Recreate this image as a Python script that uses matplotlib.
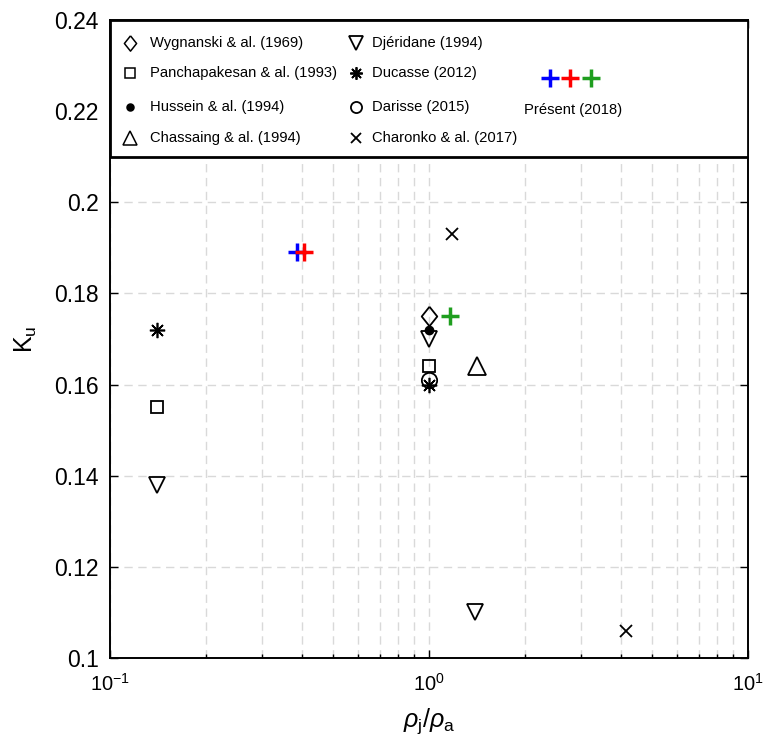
import numpy as np
import matplotlib.pyplot as plt
from matplotlib.patches import Rectangle

plt.rcParams['font.family'] = ['Liberation Sans', 'DejaVu Sans']
plt.rcParams['mathtext.fontset'] = 'custom'
plt.rcParams['mathtext.rm'] = 'Liberation Sans'
plt.rcParams['mathtext.it'] = 'Liberation Sans:italic'
plt.rcParams['mathtext.default'] = 'regular'

# data: density ratio rho_j/rho_a and K_u for each reference
wyg_x, wyg_y = [1.0], [0.175]
pan_x, pan_y = [0.14, 1.0], [0.155, 0.164]
hus_x, hus_y = [1.0], [0.172]
cha_x, cha_y = [1.41], [0.164]
dje_x, dje_y = [0.14, 1.0, 1.39], [0.138, 0.170, 0.110]
duc_x, duc_y = [0.14, 1.0], [0.172, 0.160]
dar_x, dar_y = [1.0], [0.161]
chr_x, chr_y = [1.18, 4.15], [0.193, 0.106]
pres_x = [0.385, 0.405, 1.16]
pres_y = [0.189, 0.189, 0.175]
pres_colors = ['#0000ff', '#ff0000', '#1f9e1f']

legend_left = ['Wygnanski & al. (1969)', 'Panchapakesan & al. (1993)',
               'Hussein & al. (1994)', 'Chassaing & al. (1994)']
legend_right = ['Djéridane (1994)', 'Ducasse (2012)',
                'Darisse (2015)', 'Charonko & al. (2017)']

diamond = [(0, 1), (0.8, 0), (0, -1), (-0.8, 0), (0, 1)]
aster = (8, 2, 0)

fig = plt.figure(figsize=(7.63, 7.47), dpi=100)
ax = fig.add_axes([0.1442, 0.1191, 0.8361, 0.8541])

kw = dict(ls='none', mfc='none', mec='k', color='k', zorder=5)
ax.plot(wyg_x, wyg_y, marker=diamond, ms=14, mew=1.3, **kw)
ax.plot(pan_x, pan_y, marker='s', ms=8.6, mew=1.3, **kw)
ax.plot(hus_x, hus_y, ls='none', marker='o', ms=6, mfc='k', mec='k', zorder=6)
ax.plot(cha_x, cha_y, marker='^', ms=13, mew=1.3, **kw)
ax.plot(dje_x, dje_y, marker='v', ms=12, mew=1.3, **kw)
ax.plot(duc_x, duc_y, marker=aster, ms=11, mew=1.2, **kw)
ax.plot(dar_x, dar_y, marker='o', ms=11, mew=1.3, **kw)
ax.plot(chr_x, chr_y, marker='x', ms=9, mew=1.3, **kw)
for x, y, c in zip(pres_x, pres_y, pres_colors):
    ax.plot([x], [y], ls='none', marker='+', ms=13, mew=2.5, color=c, zorder=7)

ax.set_xscale('log')
ax.set_xlim(0.1, 10)
ax.set_ylim(0.1, 0.24)
ax.set_yticks(np.arange(0.1, 0.2401, 0.02))
ax.set_yticklabels(['0.1', '0.12', '0.14', '0.16', '0.18', '0.2', '0.22', '0.24'])
ax.tick_params(which='both', direction='in', top=True, right=True, width=1)
ax.tick_params(axis='y', pad=8, labelsize=16.5)
ax.tick_params(axis='x', pad=11, labelsize=14.5)
ax.tick_params(which='major', length=6)
ax.tick_params(which='minor', length=3)
ax.grid(True, which='both', ls=(0, (6, 4)), color='#d9d9d9', lw=1)
ax.set_axisbelow(True)
for s in ax.spines.values():
    s.set_linewidth(1.4)

ax.set_xlabel(r'$\mathit{\rho}_{j}/\mathit{\rho}_{a}$', fontsize=18, labelpad=8)
ax.set_ylabel(r'K$_{u}$', fontsize=18, labelpad=11)

# custom legend box on top of the axes
def px(x, y):
    return ((x - 110) / 638, (658 - y) / 638)

x0, y0 = px(110, 157)
ax.add_patch(Rectangle((x0, y0), 1 - x0, 1 - y0, transform=ax.transAxes,
                       facecolor='white', edgecolor='k', lw=2, zorder=10))
rows = [43, 73, 107, 138]
mk_left = [dict(marker=diamond, ms=11, mfc='none'), dict(marker='s', ms=7, mfc='none'),
           dict(marker='o', ms=5, mfc='k'), dict(marker='^', ms=10, mfc='none')]
mk_right = [dict(marker='v', ms=10, mfc='none'), dict(marker=aster, ms=9, mfc='none'),
            dict(marker='o', ms=8, mfc='none'), dict(marker='x', ms=7, mfc='none')]
for r, lab, mk in zip(rows, legend_left, mk_left):
    mx, my = px(130, r)
    ax.plot([mx], [my], transform=ax.transAxes, mec='k', mew=1.1, zorder=11,
            clip_on=False, **mk)
    tx, ty = px(150, r)
    ax.text(tx, ty, lab, transform=ax.transAxes, fontsize=10.6, va='center',
            ha='left', zorder=11)
for r, lab, mk in zip(rows, legend_right, mk_right):
    mx, my = px(356, r)
    ax.plot([mx], [my], transform=ax.transAxes, mec='k', mew=1.3, zorder=11,
            clip_on=False, **mk)
    tx, ty = px(372, r)
    ax.text(tx, ty, lab, transform=ax.transAxes, fontsize=10.6, va='center',
            ha='left', zorder=11)
for cx, c in zip([550, 570, 591], pres_colors):
    mx, my = px(cx, 78)
    ax.plot([mx], [my], transform=ax.transAxes, marker='+', ms=13, mew=2.5,
            color=c, zorder=11, clip_on=False)
tx, ty = px(573, 110)
ax.text(tx, ty, 'Présent (2018)', transform=ax.transAxes, fontsize=10.6,
        va='center', ha='center', zorder=11)

fig.savefig('out.png', dpi=100)
